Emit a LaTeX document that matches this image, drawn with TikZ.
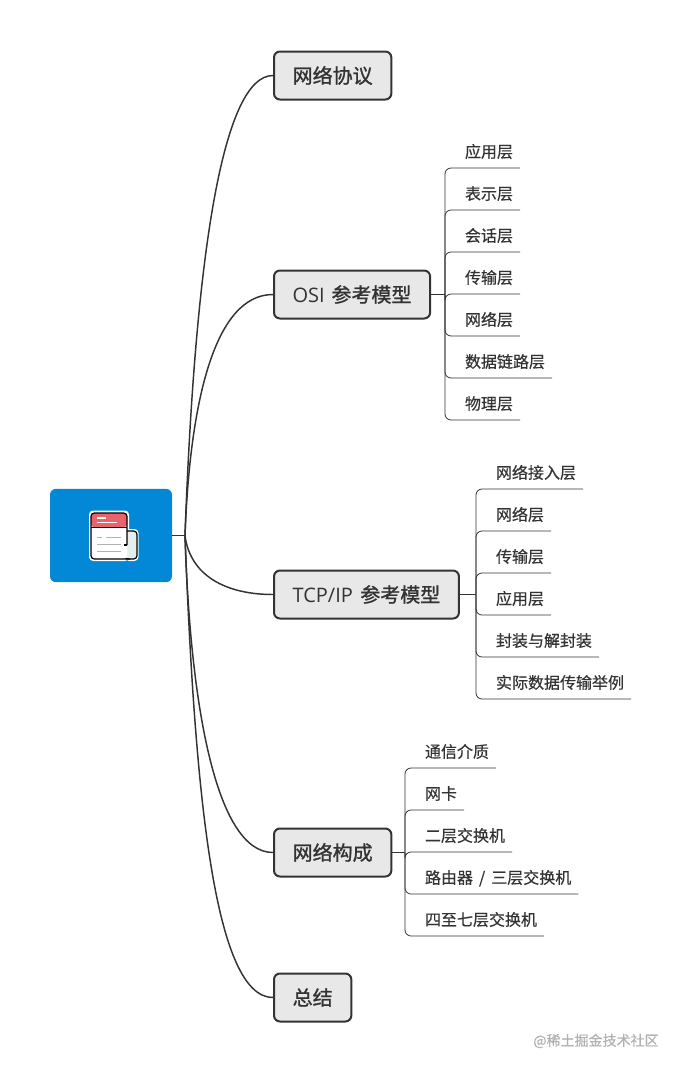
\documentclass[tikz,border=0pt]{standalone}
\usepackage{fontspec}
\setmainfont[FakeBold=0.5]{Noto Sans CJK SC}
\newfontfamily\boxfont[FakeBold=1.2]{Noto Sans CJK SC}
\newfontfamily\latinfont{Open Sans}

\definecolor{rootblue}{HTML}{0288D6}
\definecolor{boxgray}{HTML}{E8E8E8}
\definecolor{inkdark}{HTML}{333333}
\definecolor{iconred}{HTML}{E8636C}
\definecolor{scrollgray}{HTML}{E4EEEC}

\tikzset{
  mainbox/.style={draw=inkdark, fill=boxgray, line width=1.5pt, rounded corners=4.5pt, anchor=west,
    inner xsep=14pt, inner ysep=0pt, minimum height=36pt, text=inkdark, font=\boxfont\fontsize{15}{18}\selectfont},
  leafbox/.style={anchor=south west, inner xsep=5.25pt, inner ysep=6pt, outer sep=0pt,
    text height=10.2pt, text depth=1.8pt, text=inkdark, font=\fontsize{12}{14}\selectfont},
  mainline/.style={draw=inkdark, line width=1.1pt},
  leafline/.style={draw=inkdark, line width=0.6pt, rounded corners=4.5pt},
}

\begin{document}
\begin{tikzpicture}[x=0.75pt,y=-0.75pt]

  \useasboundingbox (0,0) rectangle (681,1072);

  % Centre card
  \node[fill=rootblue, rounded corners=4.5pt, minimum width=91.5pt, minimum height=70pt, inner sep=0pt, outer sep=0pt] (rootbox) at (111,535.5) {};

  % Paper icon on the card
  \fill[white, rounded corners=3pt] (89,510.5) rectangle (129,561);
  \fill[white, rounded corners=3pt] (125,529) rectangle (138.5,561);
  \draw[black, line width=0.9pt, fill=scrollgray, rounded corners=2.5pt] (124,531) rectangle (137,559);
  \fill[white, rounded corners=2.5pt] (91,513) rectangle (127,559);
  \fill[iconred, rounded corners=2pt] (91,513) rectangle (127,527);
  \draw[black, line width=0.9pt, rounded corners=2.5pt] (127,545) -- (127,513) -- (91,513) -- (91,559) -- (130,559);
  \draw[black, line width=0.9pt] (91,527.5) -- (127,527.5);
  \draw[black, line width=0.9pt] (127,545) -- (124,545);
  \draw[white, line width=0.9pt] (97,518) -- (106,518) (97,522.5) -- (117,522.5);
  \draw[gray!60, line width=0.7pt] (97,537) -- (102,537) (106,537) -- (121,537) (97,544) -- (121,544) (97,551) -- (121,551);

  % First level boxes
  \node[mainbox] (protocol) at (273,75.5) {网络协议};
  \node[mainbox] (osi) at (273,294.5) {{\latinfont OSI}\hspace{5pt}参考模型};
  \node[mainbox] (tcpip) at (273,594.5) {{\latinfont TCP/IP}\hspace{5.5pt}参考模型};
  \node[mainbox] (netparts) at (273,852.5) {网络构成};
  \node[mainbox] (summary) at (273,997.5) {总结};

  % Curves from the card
  \coordinate (hub) at (185,535.5);
  \draw[mainline] (rootbox.east) -- (hub);
  \draw[mainline] (hub) .. controls (195,260) and (222,75.5) .. (protocol.west);
  \draw[mainline] (hub) .. controls (190,400) and (215,294.5) .. (osi.west);
  \draw[mainline] (hub) .. controls (190,575) and (225,594.5) .. (tcpip.west);
  \draw[mainline] (hub) .. controls (190,700) and (215,852.5) .. (netparts.west);
  \draw[mainline] (hub) .. controls (195,800) and (215,997.5) .. (summary.west);

  % OSI layers
  \coordinate (osibus) at (445,294.5);
  \draw[leafline] (osi.east) -- (osibus);
  \foreach \txt [count=\i] in {应用层,表示层,会话层,传输层,网络层,数据链路层,物理层} {
    \node[leafbox] (osi\i) at (458,{168+42*(\i-1)}) {\txt};
    \draw[leafline] (osibus) |- (osi\i.south west) -- (osi\i.south east);
  }

  % TCP/IP layers
  \coordinate (tcpbus) at (476,594.5);
  \draw[leafline] (tcpip.east) -- (tcpbus);
  \foreach \txt [count=\i] in {网络接入层,网络层,传输层,应用层,封装与解封装,实际数据传输举例} {
    \node[leafbox] (tcp\i) at (489,{489+42*(\i-1)}) {\txt};
    \draw[leafline] (tcpbus) |- (tcp\i.south west) -- (tcp\i.south east);
  }

  % Network parts
  \coordinate (netbus) at (405,852.5);
  \draw[leafline] (netparts.east) -- (netbus);
  \foreach \txt [count=\i] in {通信介质,网卡,二层交换机,{路由器\hspace{4.5pt}/\hspace{4.5pt}三层交换机},四至七层交换机} {
    \node[leafbox] (net\i) at (418,{768+42*(\i-1)}) {\txt};
    \draw[leafline] (netbus) |- (net\i.south west) -- (net\i.south east);
  }

  % Watermark
  \node[text=black!30, font=\fontsize{10.5}{12}\selectfont, inner sep=0pt] (mark) at (596,1041) {@稀土掘金技术社区};

\end{tikzpicture}
\end{document}
